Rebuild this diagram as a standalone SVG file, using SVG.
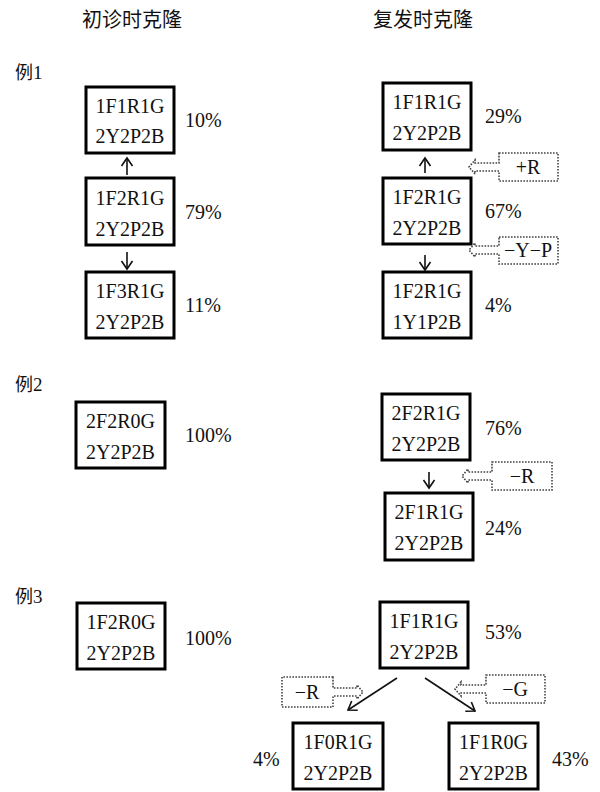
<svg xmlns="http://www.w3.org/2000/svg" width="600" height="792" viewBox="0 0 600 792" font-family="'Liberation Serif', 'Times New Roman', 'DejaVu Serif', serif">
<defs>
<style>
.bx{fill:#fff;stroke:#000;stroke-width:3}
.t{font-family:'Liberation Serif','Times New Roman','DejaVu Serif',serif;font-size:20px;fill:#111}
.m{text-anchor:middle}
.cj{font-family:'Noto Sans CJK SC',sans-serif;font-size:18px;fill:#111}
.ln{stroke:#111;stroke-width:1.6;fill:none}
.co{fill:#fff;stroke:#444;stroke-width:1.6;stroke-dasharray:1.6 1.4}
</style>
<marker id="ah" viewBox="-10 -7 12 14" refX="0" refY="0" markerWidth="12" markerHeight="14" markerUnits="userSpaceOnUse" orient="auto">
<path d="M-8,-5.5 L0,0 L-8,5.5" fill="none" stroke="#111" stroke-width="1.6"/>
</marker>
</defs>
<rect width="600" height="792" fill="#fff"/>
<g id="headers">
<text class="cj" x="82" y="27" style="font-size:20px">初诊时克隆</text>
<text class="cj" x="373" y="27" style="font-size:20px">复发时克隆</text>
<text x="15" y="79"><tspan class="cj">例</tspan><tspan class="t" font-family="Liberation Serif, serif" style="font-size:19px">1</tspan></text>
<text x="15" y="391"><tspan class="cj">例</tspan><tspan class="t" font-family="Liberation Serif, serif" style="font-size:19px">2</tspan></text>
<text x="15" y="603"><tspan class="cj">例</tspan><tspan class="t" font-family="Liberation Serif, serif" style="font-size:19px">3</tspan></text>
</g>
<g id="connectors">
<line class="ln" x1="127" y1="175" x2="127" y2="158" marker-end="url(#ah)"/>
<line class="ln" x1="127" y1="252" x2="127" y2="269" marker-end="url(#ah)"/>
<line class="ln" x1="425" y1="173" x2="425" y2="158" marker-end="url(#ah)"/>
<line class="ln" x1="425" y1="255" x2="425" y2="270" marker-end="url(#ah)"/>
<line class="ln" x1="429" y1="472" x2="429" y2="488" marker-end="url(#ah)"/>
<line class="ln" x1="397" y1="678" x2="348" y2="710" marker-end="url(#ah)"/>
<line class="ln" x1="425" y1="678" x2="475" y2="711" marker-end="url(#ah)"/>
</g>
<g font-family="Liberation Serif, serif">
<g id="callout-plusR">
<path class="co" d="M499,153 H558 V181 H499 V171 H475 V174 L469,167 L475,160 V163 H499 Z"/>
<text class="t m" x="528" y="174">+R</text>
</g>
<g id="callout-minusYP">
<path class="co" d="M499,237 H558 V264 H499 V254 H475 V257 L469,250 L475,243 V246 H499 Z"/>
<text class="t m" x="528" y="257">−Y−P</text>
</g>
<g id="callout-ex2-minusR">
<path class="co" d="M492,462 H552 V490 H492 V480 H468 V483 L462,476 L468,469 V472 H492 Z"/>
<text class="t m" x="522" y="483">−R</text>
</g>
<g id="callout-ex3-minusR">
<path class="co" d="M333,677 H282 V707 H333 V696 H357 V699 L363,692 L357,685 V688 H333 Z"/>
<text class="t m" x="307" y="699">−R</text>
</g>
<g id="callout-ex3-minusG">
<path class="co" d="M486,675 H545 V703 H486 V693 H461 V696 L455,689 L461,682 V685 H486 Z"/>
<text class="t m" x="515" y="696">−G</text>
</g>
<g id="e1-l1"><rect class="bx" x="86" y="87" width="88" height="66"/><text class="t m" x="130" y="113">1F1R1G</text><text class="t m" x="130" y="143">2Y2P2B</text><text class="t" x="185" y="127">10%</text></g>
<g id="e1-l2"><rect class="bx" x="86" y="178" width="88" height="67"/><text class="t m" x="130" y="205">1F2R1G</text><text class="t m" x="130" y="236">2Y2P2B</text><text class="t" x="185" y="219">79%</text></g>
<g id="e1-l3"><rect class="bx" x="86" y="272" width="88" height="66"/><text class="t m" x="130" y="298">1F3R1G</text><text class="t m" x="130" y="329">2Y2P2B</text><text class="t" x="185" y="312">11%</text></g>
<g id="e1-r1"><rect class="bx" x="383" y="83" width="88" height="67"/><text class="t m" x="427" y="109">1F1R1G</text><text class="t m" x="427" y="140">2Y2P2B</text><text class="t" x="485" y="123">29%</text></g>
<g id="e1-r2"><rect class="bx" x="383" y="178" width="88" height="66"/><text class="t m" x="427" y="204">1F2R1G</text><text class="t m" x="427" y="235">2Y2P2B</text><text class="t" x="485" y="218">67%</text></g>
<g id="e1-r3"><rect class="bx" x="383" y="272" width="88" height="66"/><text class="t m" x="427" y="298">1F2R1G</text><text class="t m" x="427" y="329">1Y1P2B</text><text class="t" x="485" y="312">4%</text></g>
<g id="e2-l1"><rect class="bx" x="76" y="402" width="89" height="66"/><text class="t m" x="120.5" y="428">2F2R0G</text><text class="t m" x="120.5" y="459">2Y2P2B</text><text class="t" x="185" y="442">100%</text></g>
<g id="e2-r1"><rect class="bx" x="382" y="394" width="88" height="66"/><text class="t m" x="426" y="420">2F2R1G</text><text class="t m" x="426" y="451">2Y2P2B</text><text class="t" x="485" y="435">76%</text></g>
<g id="e2-r2"><rect class="bx" x="385" y="493" width="88" height="67"/><text class="t m" x="429" y="519">2F1R1G</text><text class="t m" x="429" y="550">2Y2P2B</text><text class="t" x="485" y="535">24%</text></g>
<g id="e3-l1"><rect class="bx" x="77" y="603" width="88" height="66"/><text class="t m" x="121" y="629">1F2R0G</text><text class="t m" x="121" y="660">2Y2P2B</text><text class="t" x="185" y="645">100%</text></g>
<g id="e3-r1"><rect class="bx" x="380" y="602" width="88" height="66"/><text class="t m" x="424" y="628">1F1R1G</text><text class="t m" x="424" y="659">2Y2P2B</text><text class="t" x="485" y="639">53%</text></g>
<g id="e3-r2"><rect class="bx" x="293" y="723" width="90" height="66"/><text class="t m" x="338" y="749">1F0R1G</text><text class="t m" x="338" y="780">2Y2P2B</text><text class="t" x="253" y="766">4%</text></g>
<g id="e3-r3"><rect class="bx" x="449" y="723" width="89" height="66"/><text class="t m" x="493.5" y="749">1F1R0G</text><text class="t m" x="493.5" y="780">2Y2P2B</text><text class="t" x="552" y="766">43%</text></g>
</g>
</svg>
